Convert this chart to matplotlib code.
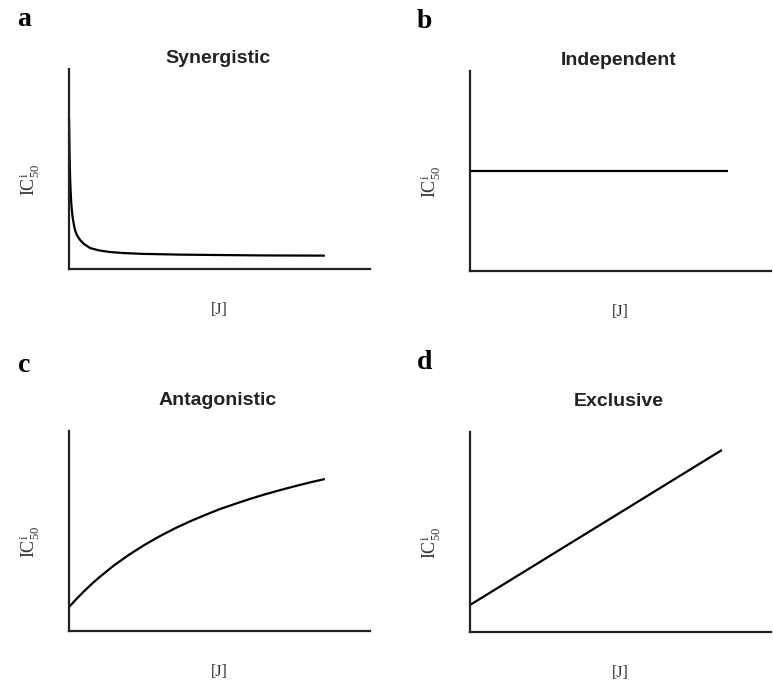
import matplotlib.pyplot as plt

plt.rcParams["mathtext.fontset"] = "custom"
plt.rcParams["mathtext.rm"] = "Liberation Serif"
plt.rcParams["mathtext.it"] = "Liberation Serif:italic"

# --- Curve data (arbitrary units: [J] on x, IC50 on y, both 0..10) ---
syn_x = [0.0, 0.01, 0.02, 0.035, 0.05, 0.07, 0.09, 0.11, 0.14, 0.17, 0.2, 0.24, 0.28,
         0.37, 0.5, 0.7, 1.0, 1.36, 1.8, 2.4, 3.7, 5.0, 6.5, 8.5]
syn_y = [7.5, 6.6, 5.6, 4.6, 4.0, 3.4, 3.0, 2.7, 2.4, 2.15, 1.95, 1.78, 1.65,
         1.45, 1.25, 1.05, 0.93, 0.85, 0.8, 0.76, 0.72, 0.7, 0.68, 0.67]

ind_x = [0.0, 8.57]
ind_y = [5.0, 5.0]

ant_x = [0.0, 0.25, 0.5, 0.75, 1.0, 1.5, 2.0, 2.5, 3.0, 3.5, 4.0, 4.5, 5.0,
         5.5, 6.0, 6.5, 7.0, 7.5, 8.0, 8.5]
ant_y = [1.2, 1.61, 1.99, 2.35, 2.68, 3.29, 3.82, 4.30, 4.73, 5.12, 5.47, 5.79, 6.09,
         6.35, 6.60, 6.83, 7.04, 7.24, 7.43, 7.60]

exc_x = [0.0, 8.37]
exc_y = [1.35, 9.1]

panels = [
    # letter, title, x, y, axes rect, title height, letter height
    ("a", "Synergistic", syn_x, syn_y, [0.0893, 0.6061, 0.3894, 0.2928], 1.055, 1.25),
    ("b", "Independent", ind_x, ind_y, [0.6080, 0.6032, 0.3894, 0.2928], 1.055, 1.25),
    ("c", "Antagonistic", ant_x, ant_y, [0.0893, 0.0761, 0.3894, 0.2928], 1.155, 1.33),
    ("d", "Exclusive", exc_x, exc_y, [0.6080, 0.0747, 0.3894, 0.2928], 1.155, 1.35),
]

fig = plt.figure(figsize=(7.73, 6.83), dpi=100)

for letter, title, xs, ys, rect, title_y, letter_y in panels:
    ax = fig.add_axes(rect)
    ax.plot(xs, ys, color="black", lw=1.6, clip_on=False,
            solid_capstyle="butt", solid_joinstyle="round")
    ax.set_xlim(0, 10)
    ax.set_ylim(0, 10)
    for side in ("top", "right"):
        ax.spines[side].set_visible(False)
    for side in ("left", "bottom"):
        ax.spines[side].set_linewidth(1.6)
        ax.spines[side].set_color("#222222")
    ax.set_xticks([])
    ax.set_yticks([])

    ax.text(0.495, title_y, title, transform=ax.transAxes, ha="center", va="center",
            fontsize=14, fontweight="bold", family="Liberation Sans", color="#222222")
    ax.text(-0.15, letter_y, letter, transform=ax.transAxes, ha="center", va="center",
            fontsize=20, fontweight="bold", family="Liberation Serif", color="black")
    ax.text(0.5, -0.205, "[J]", transform=ax.transAxes, ha="center", va="center",
            fontsize=11.5, family="Liberation Serif", color="#333333")
    ax.text(-0.13, 0.445, r"IC$_{50}^{\mathrm{i}}$", transform=ax.transAxes,
            ha="center", va="center", rotation=90, fontsize=13,
            family="Liberation Serif", color="#333333")

fig.savefig("out.png", dpi=100)
